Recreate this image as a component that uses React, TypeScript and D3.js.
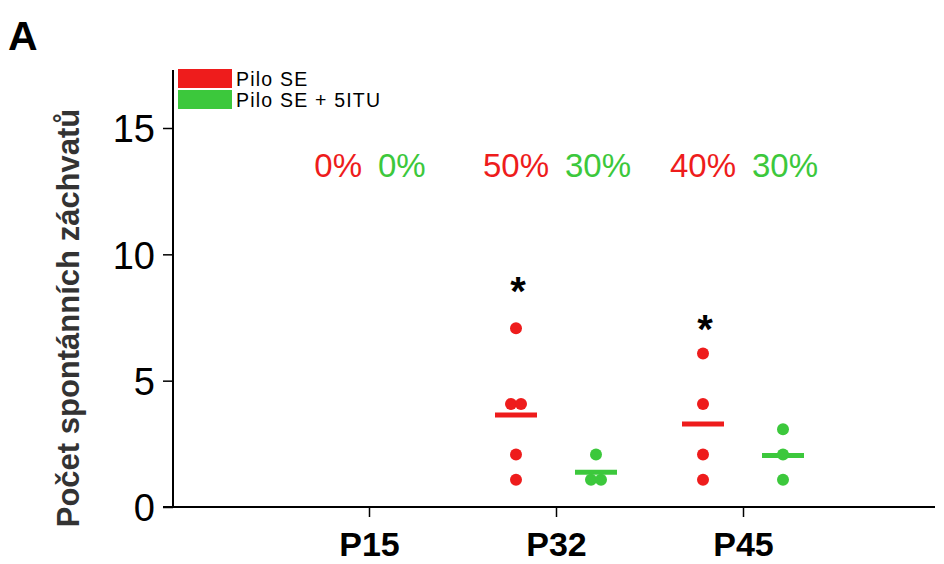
import React, { useEffect, useRef } from 'react';
import * as d3 from 'd3';

// time points on the x axis
const groups = ['P15', 'P32', 'P45'];
// individual seizure counts per animal
const piloSE = [[], [7, 4, 4, 2, 1], [6, 4, 2, 1]];
const piloITU = [[], [2, 1, 1], [3, 2, 1]];
// percentage of animals with seizures
const pctSE = ['0%', '50%', '40%'];
const pctITU = ['0%', '30%', '30%'];
// significance markers (y value of the asterisk), null = none
const sigY = [null, 8.8, 7.3];
const yTicks = [0, 5, 10, 15];

const RED = '#ee1c1c';
const GREEN = '#3cc83c';
const FONT = 'Arial, "Liberation Sans", sans-serif';

const App = () => {
  const ref = useRef<SVGSVGElement>(null);

  useEffect(() => {
    const svg = d3.select(ref.current);
    svg.selectAll('*').remove();

    const x = d3.scaleLinear().domain([0, 4]).range([182, 930]);
    const y = d3.scaleLinear().domain([0, 15]).range([507, 128]);
    const axisX = 173;
    const yTop = 17.3;

    // y axis
    const gy = svg.append('g').attr('transform', `translate(${axisX},0)`);
    gy.call(d3.axisLeft(y).tickValues(yTicks).tickSize(10).tickPadding(8) as any);
    gy.select('.domain').remove();
    gy.append('line')
      .attr('y1', y(0)).attr('y2', y(yTop))
      .attr('stroke', '#000').attr('stroke-width', 2);
    gy.selectAll('.tick line').attr('stroke', '#000').attr('stroke-width', 1.5);
    gy.selectAll('.tick text')
      .attr('font-family', FONT).attr('font-size', 38).attr('fill', '#000')
      .attr('dy', '0.36em');

    // x axis
    const gx = svg.append('g').attr('transform', `translate(0,${y(0)})`);
    gx.call(d3.axisBottom(x).tickValues([1, 2, 3]).tickSize(10).tickPadding(16)
      .tickFormat((d: any) => groups[d - 1]) as any);
    gx.select('.domain').remove();
    gx.append('line')
      .attr('x1', 163).attr('x2', 935)
      .attr('stroke', '#000').attr('stroke-width', 2);
    gx.selectAll('.tick line').attr('stroke', '#000').attr('stroke-width', 1.5);
    gx.selectAll('.tick text')
      .attr('font-family', FONT).attr('font-size', 34).attr('font-weight', 'bold')
      .attr('fill', '#000')
      .attr('dy', null)
      .attr('y', 49);

    const series = [
      { data: piloSE, color: RED, off: -40 },
      { data: piloITU, color: GREEN, off: 40 },
    ];

    series.forEach(s => {
      s.data.forEach((vals, gi) => {
        const cx = x(gi + 1) + s.off;
        const counts = d3.rollup(vals, v => v.length, v => v);
        const seen = new Map<number, number>();
        vals.forEach(v => {
          const n = counts.get(v) || 1;
          const k = seen.get(v) || 0;
          seen.set(v, k + 1);
          const dx = n > 1 ? (k - (n - 1) / 2) * 10 : 0;
          svg.append('circle')
            .attr('cx', cx + dx).attr('cy', y(v) - 2).attr('r', 6)
            .attr('fill', s.color);
        });
        const m = d3.mean(vals);
        if (m !== undefined) {
          svg.append('line')
            .attr('x1', cx - 21).attr('x2', cx + 21)
            .attr('y1', y(m) - 1).attr('y2', y(m) - 1)
            .attr('stroke', s.color).attr('stroke-width', 5);
        }
      });
    });

    // percentages
    groups.forEach((g, gi) => {
      svg.append('text')
        .attr('x', x(gi + 1) - 7).attr('y', 177)
        .attr('text-anchor', 'end')
        .attr('font-family', FONT).attr('font-size', 33).attr('fill', RED)
        .text(pctSE[gi]);
      svg.append('text')
        .attr('x', x(gi + 1) + 9).attr('y', 177)
        .attr('font-family', FONT).attr('font-size', 33).attr('fill', GREEN)
        .text(pctITU[gi]);
      if (sigY[gi] !== null) {
        svg.append('text')
          .attr('x', x(gi + 1) - 38).attr('y', y(sigY[gi] as number) + 20)
          .attr('text-anchor', 'middle')
          .attr('font-family', FONT).attr('font-size', 40).attr('font-weight', 'bold')
          .text('*');
      }
    });

    // legend
    const legend = [
      { label: 'Pilo SE', color: RED },
      { label: 'Pilo SE + 5ITU', color: GREEN },
    ];
    legend.forEach((l, i) => {
      svg.append('rect')
        .attr('x', 178).attr('y', 69 + i * 21).attr('width', 54).attr('height', 19)
        .attr('fill', l.color);
      svg.append('text')
        .attr('x', 236).attr('y', 86 + i * 21)
        .attr('font-family', FONT).attr('font-size', 19.5)
        .attr('letter-spacing', 1.2).attr('fill', '#000')
        .text(l.label);
    });

    // y label
    svg.append('text')
      .attr('transform', `translate(79,318) rotate(-90)`)
      .attr('text-anchor', 'middle')
      .attr('font-family', FONT).attr('font-size', 31).attr('font-weight', 'bold')
      .attr('fill', '#333')
      .text('Počet spontánních záchvatů');

    // panel letter
    svg.append('text')
      .attr('x', 8).attr('y', 50)
      .attr('font-family', FONT).attr('font-size', 41).attr('font-weight', 'bold')
      .text('A');
  }, []);

  return (
    <svg
      ref={ref}
      width={944}
      height={564}
      style={{ position: 'fixed', left: 0, top: 0, background: '#fff' }}
    />
  );
};

export default App;
